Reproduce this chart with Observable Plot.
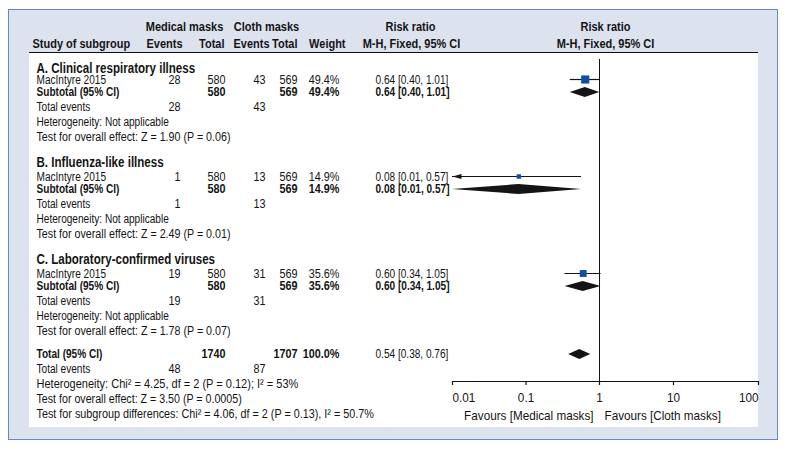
<!DOCTYPE html>
<html><head><meta charset="utf-8">
<script src="https://cdn.jsdelivr.net/npm/d3@7"></script>
<script src="https://cdn.jsdelivr.net/npm/@observablehq/plot@0.6"></script>
<style>
body{margin:0;background:#fff;}
#wrap{position:relative;width:787px;height:450px;overflow:hidden;}
#frame{position:absolute;left:8px;top:9px;width:768px;height:429px;background:#dde2ef;border:1.5px solid #6189cc;}
#panel{position:absolute;left:29px;top:52px;width:729px;height:374px;background:#fff;border-top:1.5px solid #111;}
#chart{position:absolute;left:0;top:0;}
</style></head><body>
<div id="wrap"><div id="frame"></div><div id="panel"></div><div id="chart"></div></div>
<script>
// ---------- data ----------
const subgroups = ["A. Clinical respiratory illness", "B. Influenza-like illness", "C. Laboratory-confirmed viruses"];
const studies = ["MacIntyre 2015", "MacIntyre 2015", "MacIntyre 2015"];
const medicalEvents = [28, 1, 19];
const medicalTotal = [580, 580, 580];
const clothEvents = [43, 13, 31];
const clothTotal = [569, 569, 569];
const weights = [49.4, 14.9, 35.6];
const riskRatio = [0.64, 0.08, 0.60];
const ciLower = [0.40, 0.01, 0.34];
const ciUpper = [1.01, 0.57, 1.05];
const zValues = [1.90, 2.49, 1.78];
const pValues = ["0.06", "0.01", "0.07"];
const heterogeneity = ["Not applicable", "Not applicable", "Not applicable"];

const totalMedicalEvents = 48, totalClothEvents = 87;
const totalMedical = 1740, totalCloth = 1707, totalWeight = 100.0;
const totalRR = 0.54, totalLower = 0.38, totalUpper = 0.76;
const totalHeterogeneity = "Chi² = 4.25, df = 2 (P = 0.12); I² = 53%";
const totalZ = 3.50, totalP = "0.0005";
const subgroupDifferences = "Chi² = 4.06, df = 2 (P = 0.13), I² = 50.7%";

const axisTicks = [0.01, 0.1, 1, 10, 100];
const favourLabels = ["Favours [Medical masks]", "Favours [Cloth masks]"];

// ---------- layout / style ----------
const ink = "#141414";
const boxBlue = "#0d4ea6";
const fontFamily = '"Liberation Sans",Arial,sans-serif';
const fs = 12.3, fsHead = 13.4, fsGroup = 14.1, fsAxis = 13;
const narrow = {body: 0.82, numeric: 0.88, axis: 0.9};
const col = {label: 36, me: 180, mt: 225, ce: 265, ct: 297, w: 339, rr: 375};
const axisY = 381, refTop = 59, diamondHalf = 5;

const fmt2 = v => v.toFixed(2);
const rrText = (r, l, u) => `${fmt2(r)} [${fmt2(l)}, ${fmt2(u)}]`;
const str = v => String(v);

// rows with vertical layout positions
const rows = [];
let yPos = 68;
const gapBefore = {group: 25, study: 15, subtotal: 12, events: 15, note: 15, total: 23};
function add(kind, fields) {
  if (rows.length) yPos += (kind === "study" && rows.length === 1) ? 12 : gapBefore[kind];
  rows.push({kind, y: yPos, ...fields});
}
subgroups.forEach((g, i) => {
  add("group", {head: g});
  add("study", {label: studies[i], me: str(medicalEvents[i]), mt: str(medicalTotal[i]), ce: str(clothEvents[i]), ct: str(clothTotal[i]),
    w: weights[i].toFixed(1) + "%", rr: rrText(riskRatio[i], ciLower[i], ciUpper[i]),
    est: riskRatio[i], lo: ciLower[i], hi: ciUpper[i], weight: weights[i]});
  add("subtotal", {label: "Subtotal (95% CI)", mt: str(medicalTotal[i]), ct: str(clothTotal[i]), w: weights[i].toFixed(1) + "%",
    rr: rrText(riskRatio[i], ciLower[i], ciUpper[i]), est: riskRatio[i], lo: ciLower[i], hi: ciUpper[i], bold: true, rrBold: true});
  add("events", {label: "Total events", me: str(medicalEvents[i]), ce: str(clothEvents[i])});
  add("note", {label: "Heterogeneity: " + heterogeneity[i]});
  add("note", {label: `Test for overall effect: Z = ${fmt2(zValues[i])} (P = ${pValues[i]})`});
});
add("total", {label: "Total (95% CI)", mt: str(totalMedical), ct: str(totalCloth), w: totalWeight.toFixed(1) + "%",
  rr: rrText(totalRR, totalLower, totalUpper), est: totalRR, lo: totalLower, hi: totalUpper, bold: true, rrBold: false});
add("events", {label: "Total events", me: str(totalMedicalEvents), ce: str(totalClothEvents)});
add("note", {label: "Heterogeneity: " + totalHeterogeneity});
add("note", {label: `Test for overall effect: Z = ${fmt2(totalZ)} (P = ${totalP})`});
add("note", {label: "Test for subgroup differences: " + subgroupDifferences});

const studyRows = rows.filter(r => r.kind === "study");
const pooledRows = rows.filter(r => r.kind === "subtotal" || r.kind === "total");
const diamondPts = pooledRows.flatMap((r, k) => [
  {id: k, x: r.lo, y1: r.y, y2: r.y},
  {id: k, x: r.est, y1: r.y - diamondHalf, y2: r.y + diamondHalf},
  {id: k, x: r.hi, y1: r.y, y2: r.y}
]);

function column(field, dx, anchor, boldOf) {
  const has = rows.filter(r => r[field] != null);
  return [false, true].map(b => Plot.text(has.filter(r => !!boldOf(r) === b), {
    y: "y", text: field, frameAnchor: "left", dx, textAnchor: anchor,
    fontWeight: b ? "bold" : "normal", fontSize: fs, fill: ink
  }));
}

const headerTop = [
  {text: "Medical masks", x: 184, anchor: "middle"},
  {text: "Cloth masks", x: 266, anchor: "middle"},
  {text: "Risk ratio", x: 410, anchor: "middle"}
];
const headerBottom = [
  {text: "Study of subgroup", x: 32, anchor: "start"},
  {text: "Events", x: 182, anchor: "end"},
  {text: "Total", x: 224, anchor: "end"},
  {text: "Events", x: 269, anchor: "end"},
  {text: "Total", x: 297, anchor: "end"},
  {text: "Weight", x: 345, anchor: "end"},
  {text: "M-H, Fixed, 95% CI", x: 411, anchor: "middle"}
];
const headerMarks = [[headerTop, 26], [headerBottom, 43]].flatMap(([list, yy]) =>
  list.map(h => Plot.text([h.text], {y: yy, text: d => d, frameAnchor: "left", dx: h.x, textAnchor: h.anchor,
    fontWeight: "bold", fontSize: fsHead, fill: ink})));

const arrowLeft = {draw(ctx) { ctx.moveTo(0, 0); ctx.lineTo(9, -2.6); ctx.lineTo(9, 2.6); ctx.closePath(); }};
const xMin = axisTicks[0];

const chart = Plot.plot({
  width: 787, height: 450,
  marginTop: 0, marginRight: 0, marginBottom: 0, marginLeft: 0,
  x: {type: "log", domain: [0.01, 1, 10, 100], range: [452, 599, 673, 758], axis: null},
  y: {type: "linear", domain: [0, 450], range: [0, 450], axis: null},
  r: {type: "sqrt", domain: [0, 100], range: [0, 6.5]},
  style: {background: "transparent", fontFamily, color: ink, overflow: "visible"},
  marks: [
    ...headerMarks,
    Plot.text(["Risk ratio"], {x: 1, y: 26, text: d => d, dx: 6, fontWeight: "bold", fontSize: fsHead, fill: ink}),
    Plot.text(["M-H, Fixed, 95% CI"], {x: 1, y: 43, text: d => d, dx: 6, fontWeight: "bold", fontSize: fsHead, fill: ink}),
    Plot.text(rows.filter(r => r.kind === "group"), {y: "y", text: "head", frameAnchor: "left", dx: col.label,
      textAnchor: "start", fontWeight: "bold", fontSize: fsGroup, fill: ink}),
    ...column("label", col.label, "start", r => r.kind === "subtotal" || r.kind === "total"),
    ...column("me", col.me, "end", r => r.bold),
    ...column("mt", col.mt, "end", r => r.bold),
    ...column("ce", col.ce, "end", r => r.bold),
    ...column("ct", col.ct, "end", r => r.bold),
    ...column("w", col.w, "end", r => r.bold),
    ...column("rr", col.rr, "start", r => r.rrBold),
    Plot.ruleX([1], {y1: refTop, y2: axisY, stroke: ink, strokeWidth: 1}),
    Plot.ruleY([axisY], {y: d => d, x1: axisTicks[0], x2: axisTicks[axisTicks.length - 1], stroke: ink, strokeWidth: 1.2}),
    Plot.ruleX(axisTicks, {x: d => d, y1: axisY, y2: axisY + 4, stroke: ink, strokeWidth: 1.2}),
    Plot.text(axisTicks.slice(0, 1), {x: d => d, y: axisY + 16, text: d => String(d), textAnchor: "start", fontSize: fsAxis, fill: ink}),
    Plot.text(axisTicks.slice(1, -1), {x: d => d, y: axisY + 16, text: d => String(d), textAnchor: "middle", fontSize: fsAxis, fill: ink}),
    Plot.text(axisTicks.slice(-1), {x: d => d, y: axisY + 16, text: d => String(d), textAnchor: "end", fontSize: fsAxis, fill: ink}),
    Plot.text(favourLabels.slice(0, 1), {x: 1, y: axisY + 34, text: d => d, dx: -6, textAnchor: "end", fontSize: fsAxis, fill: ink}),
    Plot.text(favourLabels.slice(1), {x: 1, y: axisY + 34, text: d => d, dx: 5, textAnchor: "start", fontSize: fsAxis, fill: ink}),
    Plot.ruleY(studyRows, {y: d => d.y - 1, x1: "lo", x2: "hi", stroke: ink, strokeWidth: 1.2}),
    Plot.dot(studyRows.filter(d => d.lo <= xMin), {x: "lo", y: d => d.y - 1, symbol: arrowLeft, fill: ink, stroke: "none"}),
    Plot.dot(studyRows, {x: "est", y: d => d.y - 1, r: "weight", symbol: "square", fill: boxBlue, stroke: "none"}),
    Plot.areaY(diamondPts, {x: "x", y1: "y1", y2: "y2", z: "id", fill: ink, curve: "linear"})
  ]
});
document.getElementById("chart").appendChild(chart);

// condensed typeface: narrow every label horizontally (Liberation Sans → narrow proportions);
// the source typesets "=" with wider math spacing and uses fuller figures in the numeric columns.
chart.querySelectorAll("text").forEach(t => {
  const size = parseFloat(getComputedStyle(t).fontSize);
  const content = t.textContent;
  const k = Math.abs(size - fsAxis) < 0.01 ? narrow.axis
    : /^[\d.%]+$/.test(content) ? narrow.numeric : narrow.body;
  const len = t.getComputedTextLength();
  if (len > 0) {
    const nEq = (content.match(/=/g) || []).length;
    t.setAttribute("textLength", (len * k + nEq * size * 0.45).toFixed(2));
    t.setAttribute("lengthAdjust", "spacingAndGlyphs");
  }
});
</script>
</body></html>
